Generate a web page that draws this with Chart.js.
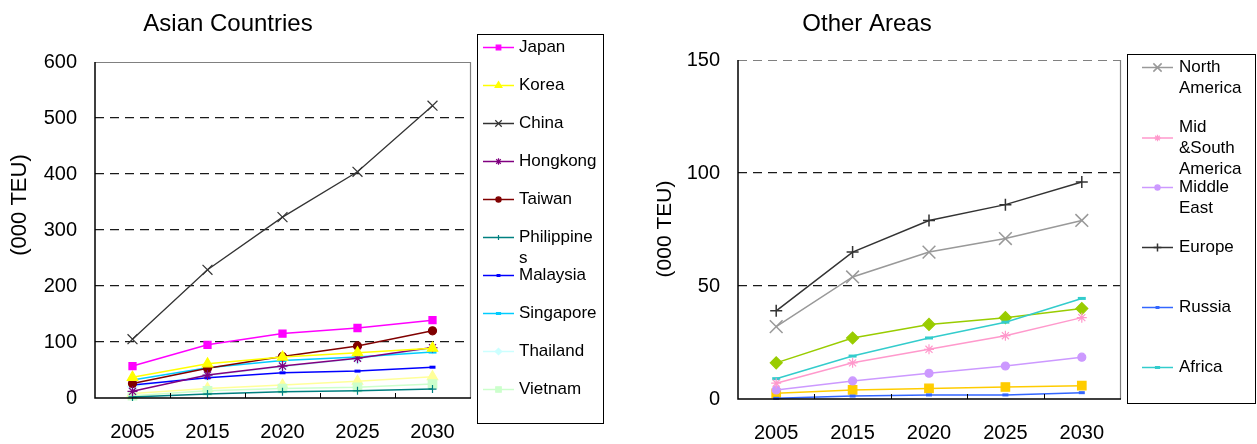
<!DOCTYPE html>
<html>
<head>
<meta charset="utf-8">
<script src="https://cdn.jsdelivr.net/npm/chart.js@4.4.1/dist/chart.umd.min.js"></script>
<style>
  html, body { margin: 0; padding: 0; background: #fff; }
  #wrap { position: relative; width: 1257px; height: 444px; overflow: hidden; }
  .panel { position: absolute; top: 0; height: 444px; }
  #leftPanel { left: 0; width: 620px; }
  #rightPanel { left: 620px; width: 637px; }
  canvas { display: block; }
</style>
</head>
<body>
<div id="wrap">
  <div class="panel" id="leftPanel"><canvas id="asia" width="620" height="444"></canvas></div>
  <div class="panel" id="rightPanel"><canvas id="other" width="637" height="444"></canvas></div>
</div>
<script>
// ---- data (000 TEU) ----
const years = ['2005', '2015', '2020', '2025', '2030'];

// Asian countries
const japan       = [57, 95, 115, 125, 139];
const korea       = [37, 61, 73, 81, 89];
const china       = [105, 229, 323, 404, 522];
const hongkong    = [12, 41, 57, 71, 90];
const taiwan      = [26, 53, 74, 93, 120];
const philippines = [2, 7, 11, 13, 16];
const malaysia    = [23, 36, 45, 48, 55];
const singapore   = [32, 54, 67, 73, 82];
const thailand    = [20, 40, 56, 70, 88];
const vietnam     = [4, 13, 17, 19, 25];
const indonesia   = [8, 17, 23, 30, 38];

// Other areas
const northAmerica = [32, 54, 65, 71, 79];
const midSouth     = [7, 16, 22, 28, 36];
const middleEast   = [4, 8, 11.4, 14.6, 18.5];
const europe       = [39, 65, 79, 86, 96];
const russia       = [0.3, 1.3, 1.8, 1.8, 2.8];
const africa       = [9, 19, 27, 34, 44.5];
const oceania      = [16, 27, 33, 36, 40];
const southAsia    = [2.5, 4, 4.7, 5.3, 5.9];

// axis ticks
const asiaTicks  = [0, 100, 200, 300, 400, 500, 600];
const otherTicks = [0, 50, 100, 150];

const asiaLegend  = ['Japan', 'Korea', 'China', 'Hongkong', 'Taiwan', 'Philippines', 'Malaysia', 'Singapore', 'Thailand', 'Vietnam'];
const otherLegend = ['North America', 'Mid &South America', 'Middle East', 'Europe', 'Russia', 'Africa'];

const FONT = "'Liberation Sans', Arial, Helvetica, sans-serif";
Chart.defaults.font.family = FONT;
Chart.defaults.color = '#000';

function series(label, data, color, pointStyle, radius, extra) {
  return Object.assign({
    label, data,
    borderColor: color,
    backgroundColor: color,
    pointBackgroundColor: color,
    pointBorderColor: color,
    pointStyle,
    pointRadius: radius,
    pointBorderWidth: 1.2,
    borderWidth: 1.5,
    tension: 0,
    clip: false
  }, extra || {});
}

function wrapText(ctx, text, maxWidth) {
  const words = text.split(' ');
  const lines = [];
  let cur = '';
  for (const w of words) {
    const trial = cur ? cur + ' ' + w : w;
    if (ctx.measureText(trial).width <= maxWidth) { cur = trial; continue; }
    if (cur) lines.push(cur);
    if (ctx.measureText(w).width <= maxWidth) { cur = w; continue; }
    let piece = '';
    for (const ch of w) {
      if (ctx.measureText(piece + ch).width > maxWidth && piece) { lines.push(piece); piece = ch; }
      else piece += ch;
    }
    cur = piece;
  }
  if (cur) lines.push(cur);
  return lines;
}

// frame, titles, category ticks and boxed legend
const decor = {
  id: 'decor',
  afterDraw(chart, args, o) {
    const { ctx, chartArea: a, scales: { x } } = chart;
    ctx.save();

    // top and right frame
    ctx.strokeStyle = o.frameColor;
    ctx.lineWidth = 1.2;
    ctx.setLineDash(o.topDash || []);
    ctx.beginPath();
    ctx.moveTo(a.left, a.top + 0.5);
    ctx.lineTo(a.right + 0.5, a.top + 0.5);
    ctx.stroke();
    ctx.setLineDash([]);
    ctx.beginPath();
    ctx.moveTo(a.right + 0.5, a.top);
    ctx.lineTo(a.right + 0.5, a.bottom);
    ctx.stroke();

    // left and bottom axis lines
    ctx.strokeStyle = '#000';
    ctx.lineWidth = 1.5;
    ctx.beginPath();
    ctx.moveTo(a.left, a.top);
    ctx.lineTo(a.left, a.bottom);
    ctx.lineTo(a.right + 1, a.bottom);
    ctx.stroke();

    // small tick marks between categories
    ctx.lineWidth = 1;
    ctx.beginPath();
    for (let i = 0; i < chart.data.labels.length - 1; i++) {
      const px = Math.round(x.getPixelForValue(i + 0.5)) + 0.5;
      ctx.moveTo(px, a.bottom);
      ctx.lineTo(px, a.bottom - 5);
    }
    ctx.stroke();

    // chart title
    ctx.fillStyle = '#000';
    ctx.textAlign = 'center';
    ctx.textBaseline = 'middle';
    ctx.font = o.titleSize + 'px ' + FONT;
    ctx.fillText(o.title, o.titleX, o.titleY);

    // y axis title
    ctx.save();
    ctx.translate(o.yTitleX, o.yTitleY);
    ctx.rotate(-Math.PI / 2);
    ctx.font = o.yTitleSize + 'px ' + FONT;
    ctx.fillText(o.yTitle, 0, 0);
    ctx.restore();

    // legend box
    const L = o.legend;
    ctx.strokeStyle = '#000';
    ctx.lineWidth = 1;
    ctx.strokeRect(L.left + 0.5, L.top + 0.5, L.right - L.left, L.bottom - L.top);

    ctx.font = L.fontSize + 'px ' + FONT;
    ctx.textAlign = 'left';
    ctx.textBaseline = 'middle';
    L.names.forEach((name, k) => {
      const ds = chart.data.datasets.find(d => d.label === name);
      const yy = L.first + k * L.step;
      ctx.fillStyle = '#000';
      const lines = wrapText(ctx, name, L.maxWidth);
      // three-line entries carry their key between the first two lines
      const my = yy + (lines.length > 2 ? L.lineHeight / 2 : 0);
      ctx.strokeStyle = ds.borderColor;
      ctx.lineWidth = 1.5;
      ctx.beginPath();
      ctx.moveTo(L.lineStart, my + 0.5);
      ctx.lineTo(L.lineEnd, my + 0.5);
      ctx.stroke();
      ctx.fillStyle = ds.pointBackgroundColor;
      ctx.strokeStyle = ds.pointBorderColor;
      ctx.lineWidth = ds.pointBorderWidth;
      Chart.helpers.drawPoint(ctx, {
        pointStyle: ds.pointStyle,
        radius: ds.pointRadius * L.markerScale,
        rotation: 0,
        borderWidth: ds.pointBorderWidth
      }, (L.lineStart + L.lineEnd) / 2, my + 0.5);
      ctx.fillStyle = '#000';
      lines.forEach((ln, j) => ctx.fillText(ln, L.textX, yy + j * L.lineHeight));
    });

    ctx.restore();
  }
};

function makeChart(id, datasets, ticks, yMax, layout, decorOpts, gridColor) {
  return new Chart(document.getElementById(id), {
    type: 'line',
    data: { labels: years, datasets },
    plugins: [decor],
    options: {
      responsive: false,
      animation: false,
      events: [],
      layout: { padding: { left: 0, right: layout.right, top: layout.top, bottom: 0 } },
      plugins: { legend: { display: false }, tooltip: { enabled: false }, title: { display: false }, decor: decorOpts },
      scales: {
        x: {
          type: 'category',
          offset: true,
          grid: { display: false },
          border: { display: false },
          ticks: { font: { size: 20 }, color: '#000', padding: layout.xPad, maxRotation: 0 },
          afterFit(s) { s.height = layout.xHeight; }
        },
        y: {
          min: 0, max: yMax,
          afterBuildTicks(s) { s.ticks = ticks.map(v => ({ value: v })); },
          grid: { color: gridColor, lineWidth: 1.3, drawTicks: false },
          border: { display: false, dash: [9, 6] },
          ticks: { font: { size: 20 }, color: '#000', padding: 18 },
          afterFit(s) { s.width = layout.yWidth; }
        }
      }
    }
  });
}

// ---- Asian countries ----
makeChart('asia', [
  series('Japan', japan, '#FF00FF', 'rect', 5),
  series('Korea', korea, '#FFFF00', 'triangle', 6),
  series('China', china, '#333333', 'crossRot', 7, { pointBorderWidth: 1.2, borderWidth: 1.3 }),
  series('Hongkong', hongkong, '#800080', 'star', 5),
  series('Taiwan', taiwan, '#800000', 'circle', 4),
  series('Philippines', philippines, '#008080', 'cross', 4),
  series('Malaysia', malaysia, '#0000FF', 'line', 3, { pointBorderWidth: 3 }),
  series('Singapore', singapore, '#00CCFF', 'line', 4, { pointBorderWidth: 3 }),
  series('Thailand', thailand, '#CCFFFF', 'rectRot', 5),
  series('Vietnam', vietnam, '#CCFFCC', 'rect', 6),
  series('Indonesia', indonesia, '#FFFF99', 'triangle', 6)
], asiaTicks, 600,
  { right: 150, top: 62, yWidth: 95, xHeight: 46, xPad: 14 },
  {
    frameColor: '#808080', title: 'Asian Countries', titleX: 228, titleY: 24, titleSize: 24,
    yTitle: '(000 TEU)', yTitleX: 20, yTitleY: 205, yTitleSize: 22,
    legend: {
      left: 477, top: 34, right: 603, bottom: 423, names: asiaLegend,
      first: 47, step: 38, lineStart: 483, lineEnd: 514, textX: 519,
      fontSize: 17, lineHeight: 21, maxWidth: 79, markerScale: 0.65
    }
  },
  c => (c.tick.value === 0 || c.tick.value === 600) ? 'rgba(0,0,0,0)' : '#1a1a1a'
);

// ---- Other areas ----
makeChart('other', [
  series('North America', northAmerica, '#999999', 'crossRot', 9, { pointBorderWidth: 1.5 }),
  series('Mid &South America', midSouth, '#FF99CC', 'star', 5),
  series('Middle East', middleEast, '#CC99FF', 'circle', 4),
  series('Europe', europe, '#333333', 'cross', 6, { pointBorderWidth: 1.5 }),
  series('Russia', russia, '#3366FF', 'line', 3, { pointBorderWidth: 3 }),
  series('Africa', africa, '#33CCCC', 'line', 4, { pointBorderWidth: 3 }),
  series('Oceania', oceania, '#99CC00', 'rectRot', 6),
  series('South Asia', southAsia, '#FFCC00', 'rect', 6)
], otherTicks, 150,
  { right: 137, top: 60, yWidth: 118, xHeight: 45, xPad: 14 },
  {
    frameColor: '#808080', topDash: [9, 6], title: 'Other Areas', titleX: 247, titleY: 24, titleSize: 24,
    yTitle: '(000 TEU)', yTitleX: 45, yTitleY: 229, yTitleSize: 21,
    legend: {
      left: 507, top: 54, right: 635, bottom: 403, names: otherLegend,
      first: 67, step: 60, lineStart: 522, lineEnd: 553, textX: 559,
      fontSize: 17, lineHeight: 21, maxWidth: 72, markerScale: 0.65
    }
  },
  c => (c.tick.value === 0 || c.tick.value === 150) ? 'rgba(0,0,0,0)' : '#1a1a1a'
);
</script>
</body>
</html>
